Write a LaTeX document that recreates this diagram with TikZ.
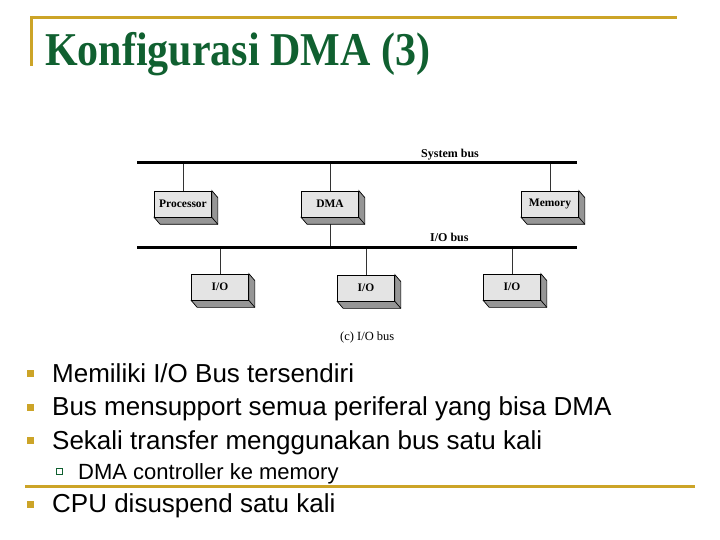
\documentclass[tikz,border=0pt]{standalone}
\usepackage{fontspec}
\setmainfont{Liberation Serif}
\newfontfamily\arialf{Liberation Sans}
\usetikzlibrary{backgrounds}
\definecolor{gold}{RGB}{204,164,40}
\definecolor{titlegreen}{RGB}{16,96,48}
\definecolor{facegray}{RGB}{228,228,228}
\definecolor{sidegray}{RGB}{150,150,150}
\begin{document}
\begin{tikzpicture}[x=1pt,y=-1pt,
  goldrule/.style={draw=gold,line width=3pt},
  bus/.style={draw=black,line width=3pt},
  link/.style={draw=black!80,line width=0.8pt},
  unit/.style={draw=black,line width=0.7pt,fill=facegray,minimum width=57pt,minimum height=26pt,inner sep=0pt,font=\fontsize{11.5}{12}\selectfont\bfseries},
  extr/.style={draw=black,line width=0.7pt,fill=sidegray},
  buslabel/.style={anchor=base west,inner sep=0pt,font=\fontsize{12}{13}\selectfont\bfseries},
  bodytext/.style={anchor=base west,inner sep=0pt,font=\arialf\fontsize{26}{30}\selectfont},
  subtext/.style={anchor=base west,inner sep=0pt,font=\arialf\fontsize{22}{26}\selectfont},
  bul/.style={fill=gold,minimum size=7pt,inner sep=0pt},
  subbul/.style={draw=titlegreen,fill=white,line width=0.6pt,minimum size=6pt,inner sep=0pt}
]
\useasboundingbox (0,0) rectangle (720,540);
\begin{scope}[on background layer]
  \fill[white] (0,0) rectangle (720,540);
\end{scope}

% slide frame
\draw[goldrule] (30,17.5) -- (677,17.5);
\draw[draw=gold,line width=2.5pt] (31.5,16) -- (31.5,66);
\draw[goldrule] (25,486) -- (695,486);

% title
\node[anchor=base west,inner sep=0pt,text=titlegreen,font=\fontsize{42}{46}\selectfont\bfseries] (title) at (45,66) {\scalebox{1}[1.12]{Konfigurasi DMA (3)}};

% buses
\coordinate (sysL) at (137,163);
\coordinate (sysR) at (577,163);
\coordinate (ioL) at (137,247);
\coordinate (ioR) at (577,247);
\draw[bus] (sysL) -- (sysR);
\draw[bus] (ioL) -- (ioR);
\node[buslabel] (syslbl) at (421,158) {System bus};
\node[buslabel] (iolbl) at (430,241) {I/O bus};

% units
\node[unit] (p) at (183,204) {Processor};
\node[unit] (d) at (330,204) {DMA};
\node[unit] (m) at (550,204) {Memory};
\node[unit] (i1) at (220,287) {I/O};
\node[unit] (i2) at (366,288) {I/O};
\node[unit] (i3) at (512,287) {I/O};

\begin{scope}[on background layer]
  \draw[link] (p.north) -- (p.north |- sysL);
  \draw[link] (d.north) -- (d.north |- sysL);
  \draw[link] (d.south) -- (d.south |- ioL);
  \draw[link] (m.north) -- (m.north |- sysL);
  \draw[link] (i1.north) -- (i1.north |- ioL);
  \draw[link] (i2.north) -- (i2.north |- ioL);
  \draw[link] (i3.north) -- (i3.north |- ioL);
  \foreach \n in {p,d,m,i1,i2,i3}{
    \filldraw[extr] (\n.north east) -- ++(6,7) -- ([shift={(6,7)}]\n.south east) -- ([shift={(6,7)}]\n.south west) -- (\n.south west) -- (\n.south east) -- cycle;
    \draw[black,line width=0.7pt] (\n.south east) -- ([shift={(6,7)}]\n.south east);
  }
\end{scope}

\node[anchor=base west,inner sep=0pt,font=\fontsize{12.5}{13}\selectfont] (cap) at (340,340) {(c) I/O bus};

% bullets
\node[bul] (b1) at (30.5,373) {};
\node[bodytext] (t1) at (52,382) {Memiliki I/O Bus tersendiri};
\node[bul] (b2) at (30.5,407) {};
\node[bodytext] (t2) at (52,415.5) {Bus mensupport semua periferal yang bisa DMA};
\node[bul] (b3) at (30.5,440) {};
\node[bodytext] (t3) at (52,449) {Sekali transfer menggunakan bus satu kali};
\node[subbul] (b4) at (59,471) {};
\node[subtext] (t4) at (78,479) {DMA controller ke memory};
\node[bul] (b5) at (30.5,504) {};
\node[bodytext] (t5) at (52,512.5) {CPU disuspend satu kali};
\end{tikzpicture}
\end{document}
